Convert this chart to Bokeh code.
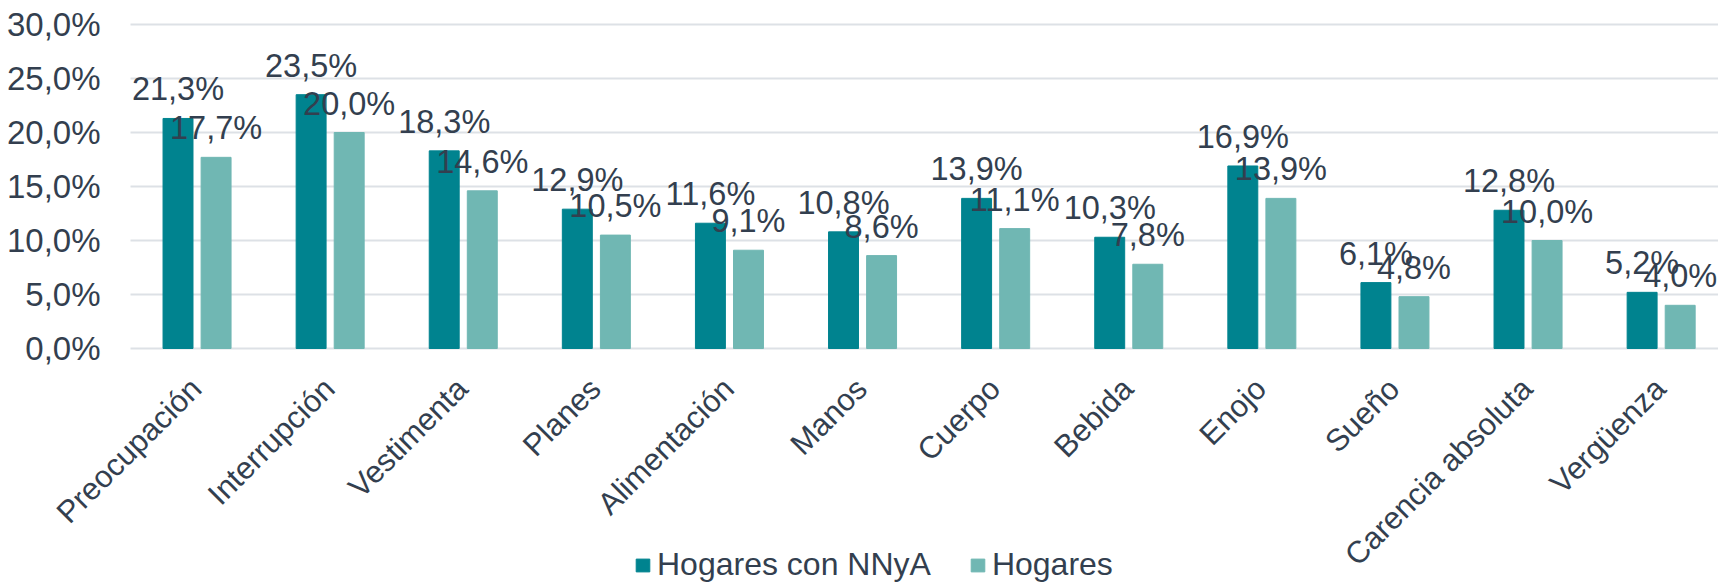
import math
from bokeh.plotting import figure
from bokeh.models import (ColumnDataSource, Range1d, FixedTicker, Legend, LegendItem)
from bokeh.core.properties import value
from bokeh.embed import file_html
from bokeh.resources import INLINE

categories = ["Preocupación", "Interrupción", "Vestimenta", "Planes", "Alimentación",
              "Manos", "Cuerpo", "Bebida", "Enojo", "Sueño", "Carencia absoluta", "Vergüenza"]
hogares_nnya = [21.3, 23.5, 18.3, 12.9, 11.6, 10.8, 13.9, 10.3, 16.9, 6.1, 12.8, 5.2]
hogares = [17.7, 20.0, 14.6, 10.5, 9.1, 8.6, 11.1, 7.8, 13.9, 4.8, 10.0, 4.0]
y_ticks = [0, 5, 10, 15, 20, 25, 30]
y_tick_labels = ["0,0%", "5,0%", "10,0%", "15,0%", "20,0%", "25,0%", "30,0%"]

FONT = "Liberation Sans"
TXT = "#333F4F"
DARK = "#00838F"
LIGHT = "#70B7B3"
GRID = "#DDE1E6"

def fmt(v):
    return f"{v:.1f}".replace(".", ",") + "%"

# layout (pixels)
W, H = 1718, 583
LEFT, TOP = 130, 24      # page position of the 30% line's left end
ZERO_Y = 348             # page y of the 0% line
PX_PER_UNIT_Y = (ZERO_Y - TOP) / 30.0
y_bottom = -(H - ZERO_Y) / PX_PER_UNIT_Y
y_top = 30 + TOP / PX_PER_UNIT_Y
PX_PER_CAT = 133.1
x_start = -LEFT / PX_PER_CAT
x_end = (W - LEFT) / PX_PER_CAT

centers = [i + 0.5 for i in range(len(categories))]
off = 0.143
bw = 0.225
label_shift = -1.0 / PX_PER_CAT

src1 = ColumnDataSource(dict(x=[c - off for c in centers], top=hogares_nnya,
                             lab=[fmt(v) for v in hogares_nnya]))
src2 = ColumnDataSource(dict(x=[c + off for c in centers], top=hogares,
                             lab=[fmt(v) for v in hogares]))

p = figure(width=W, height=H, output_backend="svg", toolbar_location=None,
           x_range=Range1d(x_start, x_end), y_range=Range1d(y_bottom, y_top),
           min_border_left=0, min_border_right=0, min_border_top=0, min_border_bottom=0)
p.outline_line_color = None
p.background_fill_color = "white"
p.xgrid.grid_line_color = None
p.ygrid.grid_line_color = None

# horizontal gridlines across the plotting area only
p.segment(x0=[0] * len(y_ticks), x1=[x_end] * len(y_ticks), y0=y_ticks, y1=y_ticks,
          line_color=GRID, line_width=2)

r1 = p.vbar(x="x", top="top", bottom=0, width=bw, source=src1, color=DARK)
r2 = p.vbar(x="x", top="top", bottom=0, width=bw, source=src2, color=LIGHT)

for s in (src1, src2):
    p.text(x="x", y="top", text="lab", source=s, text_align="center",
           text_baseline="alphabetic", y_offset=-29,
           text_font=value(FONT), text_font_size="32.5px", text_color=TXT)

# y axis at x = 0 (left edge of the plotting area)
p.yaxis.fixed_location = 0
p.yaxis.ticker = FixedTicker(ticks=y_ticks)
p.yaxis.major_label_overrides = {t: l for t, l in zip(y_ticks, y_tick_labels)}
p.yaxis.axis_line_color = None
p.yaxis.major_tick_line_color = None
p.yaxis.major_tick_out = 0
p.yaxis.major_tick_in = 0
p.yaxis.minor_tick_line_color = None
p.yaxis.major_label_standoff = 30
p.yaxis.major_label_text_font = FONT
p.yaxis.major_label_text_font_size = "33px"
p.yaxis.major_label_text_color = TXT

# x axis at the 0% line
xt = [c + label_shift for c in centers]
p.xaxis.fixed_location = 0
p.xaxis.ticker = FixedTicker(ticks=xt)
p.xaxis.major_label_overrides = {t: n for t, n in zip(xt, categories)}
p.xaxis.major_label_orientation = math.pi / 4
p.xaxis.axis_line_color = None
p.xaxis.major_tick_line_color = None
p.xaxis.major_tick_out = 0
p.xaxis.major_tick_in = 0
p.xaxis.minor_tick_line_color = None
p.xaxis.major_label_standoff = 35
p.xaxis.major_label_text_font = FONT
p.xaxis.major_label_text_font_size = "31px"
p.xaxis.major_label_text_color = TXT

legend = Legend(items=[LegendItem(label="Hogares con NNyA", renderers=[r1]),
                       LegendItem(label="Hogares", renderers=[r2])],
                location=(634, 0), orientation="horizontal",
                glyph_width=17, glyph_height=16, label_standoff=6, spacing=38,
                padding=0, margin=0, border_line_color=None, background_fill_alpha=0,
                label_text_font=FONT, label_text_font_size="32px", label_text_color=TXT)
p.add_layout(legend, "center")

open("out.html", "w").write(file_html(p, INLINE))
